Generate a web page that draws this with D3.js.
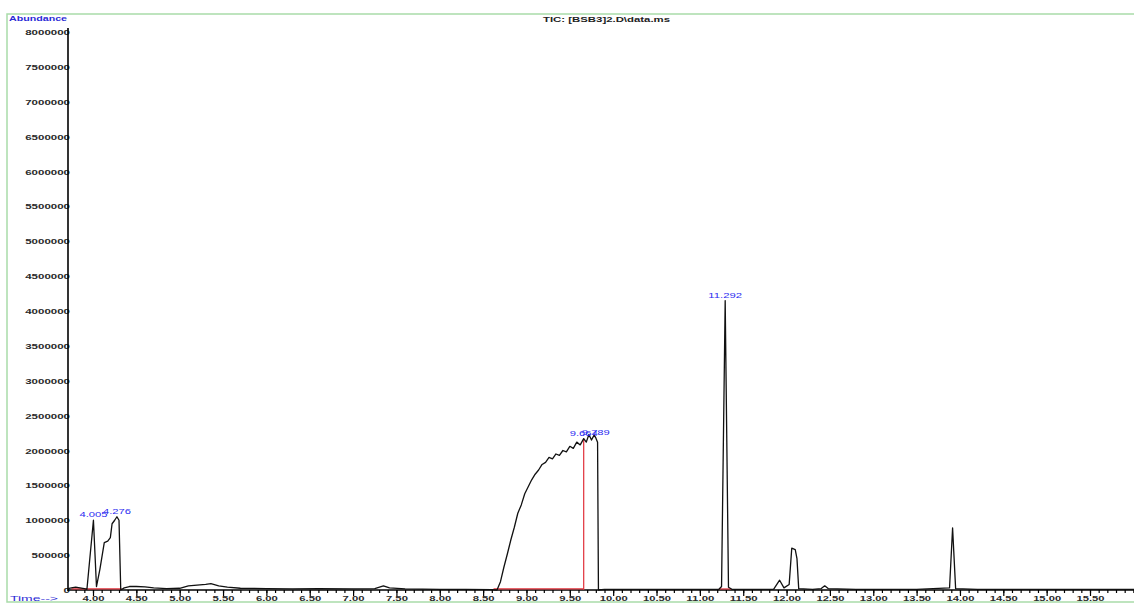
<!DOCTYPE html>
<html>
<head>
<meta charset="utf-8">
<script src="https://cdn.jsdelivr.net/npm/d3@7"></script>
<style>
body { margin: 0; background: white; }
text { font-family: "Liberation Sans", Arial, sans-serif; }
</style>
</head>
<body>
<svg id="chart" width="1134" height="603"></svg>
<script>
// TIC trace (minutes, abundance)
var times = [3.71, 3.75, 3.80, 3.85, 3.90, 3.93, 4.005, 4.04, 4.08, 4.13, 4.17, 4.20, 4.22, 4.25, 4.276, 4.30, 4.32,
    4.36, 4.42, 4.50, 4.60, 4.70, 4.85, 5.00, 5.10, 5.20, 5.30, 5.36, 5.45, 5.55, 5.70, 6.00, 6.30, 6.60, 7.00,
    7.25, 7.35, 7.42, 7.60, 8.00, 8.30, 8.60, 8.66, 8.70, 8.74, 8.78, 8.82, 8.86, 8.90, 8.94, 8.98, 9.02, 9.06,
    9.10, 9.14, 9.18, 9.22, 9.26, 9.30, 9.34, 9.38, 9.42, 9.46, 9.50, 9.54, 9.58, 9.62, 9.66, 9.69, 9.72, 9.75,
    9.78, 9.80, 9.82, 9.83, 9.90, 10.20, 10.60, 11.00, 11.22, 11.25, 11.292, 11.33, 11.37, 11.85, 11.92, 11.97,
    12.03, 12.06, 12.10, 12.12, 12.14, 12.30, 12.40, 12.44, 12.48, 12.80, 13.50, 13.88, 13.915, 13.95, 14.20,
    15.00, 16.10]
var abundance = [20000, 30000, 40000, 30000, 20000, 10000, 1000000, 50000, 300000, 680000, 700000, 750000, 950000, 1000000, 1050000, 1000000, 0,
    30000, 50000, 50000, 45000, 30000, 20000, 25000, 60000, 70000, 80000, 90000, 60000, 40000, 25000, 20000, 15000, 20000, 15000,
    20000, 60000, 30000, 15000, 10000, 10000, 5000, 0, 120000, 330000, 520000, 720000, 900000, 1100000, 1220000, 1380000, 1480000, 1580000,
    1660000, 1720000, 1800000, 1830000, 1900000, 1880000, 1950000, 1930000, 2000000, 1980000, 2060000, 2030000, 2120000, 2080000, 2170000, 2120000, 2230000, 2150000,
    2220000, 2180000, 2120000, 0, 10000, 10000, 10000, 10000, 10000, 50000, 4150000, 40000, 10000, 10000, 140000, 30000,
    80000, 600000, 580000, 450000, 20000, 10000, 20000, 60000, 20000, 10000, 10000, 30000, 890000, 20000, 10000,
    10000, 10000]

// integration marks
var peakTimes = [4.005, 4.276, 9.66, 9.80, 11.292]
var peakAbund = [1000000, 1050000, 2170000, 2180000, 4150000]
var peakLabels = ["4.005", "4.276", "9.664", "9.789", "11.292"]
var baseStart = [3.75, 8.62, 11.22]
var baseEnd = [4.33, 9.66, 11.36]
var splitTime = 9.66
var splitAbund = 2170000

var yTicks = d3.range(0, 8000001, 500000)
var xMajor = d3.range(4, 15.51, 0.5)
var xMinor = d3.range(3.8, 16.05, 0.1)

var svg = d3.select("#chart")
var x = d3.scaleLinear().domain([4, 15.5]).range([93, 1090])
var y = d3.scaleLinear().domain([0, 8000000]).range([590, 32])

// green frame
svg.append("rect")
    .attr("x", 7).attr("y", 14).attr("width", 1140).attr("height", 588)
    .attr("fill", "none").attr("stroke", "#a9dba9").attr("stroke-width", 1.5)

svg.append("text").attr("x", 9).attr("y", 21)
    .attr("font-size", "8px").attr("font-weight", "bold").attr("fill", "#2b2bd6")
    .attr("textLength", 58).attr("lengthAdjust", "spacingAndGlyphs")
    .text("Abundance")

svg.append("text").attr("x", 543).attr("y", 22)
    .attr("font-size", "8px").attr("font-weight", "bold").attr("fill", "#222")
    .attr("textLength", 127).attr("lengthAdjust", "spacingAndGlyphs")
    .text("TIC: [BSB3]2.D\\data.ms")

svg.append("text").attr("x", 10).attr("y", 601)
    .attr("font-size", "8px").attr("fill", "#2b2bd6")
    .attr("textLength", 48).attr("lengthAdjust", "spacingAndGlyphs")
    .text("Time-->")

// y axis
var yAxis = svg.append("g").attr("transform", "translate(68,0)")
    .call(d3.axisLeft(y).tickValues(yTicks).tickSize(0).tickPadding(-2).tickFormat(d3.format("d")))
yAxis.select(".domain").remove()
yAxis.selectAll("text")
    .attr("font-size", "8px").attr("font-weight", "bold").attr("fill", "#2a2a2a")
    .attr("font-family", "Liberation Sans, Arial, sans-serif")
    .attr("textLength", function(d){return String(d).length * 6.4})
    .attr("lengthAdjust", "spacingAndGlyphs")
svg.append("line").attr("x1", 68).attr("x2", 68).attr("y1", 28).attr("y2", 591)
    .attr("stroke", "black").attr("stroke-width", 1.6)

// x axis
var xMinorAxis = svg.append("g").attr("transform", "translate(0,590)")
    .call(d3.axisBottom(x).tickValues(xMinor).tickSize(3).tickFormat(""))
xMinorAxis.select(".domain").remove()
xMinorAxis.selectAll("line").attr("stroke-width", 1.2)

var xAxis = svg.append("g").attr("transform", "translate(0,590)")
    .call(d3.axisBottom(x).tickValues(xMajor).tickSize(6).tickPadding(3).tickFormat(d3.format(".2f")))
xAxis.select(".domain").remove()
xAxis.selectAll("line").attr("stroke-width", 1.2)
xAxis.selectAll("text")
    .attr("font-size", "8px").attr("font-weight", "bold").attr("fill", "#2a2a2a")
    .attr("font-family", "Liberation Sans, Arial, sans-serif")
    .attr("y", 5)
    .attr("textLength", function(d){return d >= 10 ? 28 : 22})
    .attr("lengthAdjust", "spacingAndGlyphs")

svg.append("line").attr("x1", 68).attr("x2", 1134).attr("y1", 590).attr("y2", 590)
    .attr("stroke", "black").attr("stroke-width", 1.6)

// red integration baselines
svg.selectAll(".base").data(baseStart).enter().append("line")
    .attr("class", "base")
    .attr("x1", function(d){return x(d)})
    .attr("x2", function(d,i){return x(baseEnd[i])})
    .attr("y1", y(15000)).attr("y2", y(15000))
    .attr("stroke", "#e0303a").attr("stroke-width", 1.2)

svg.append("line")
    .attr("x1", x(splitTime)).attr("x2", x(splitTime))
    .attr("y1", y(0)).attr("y2", y(splitAbund))
    .attr("stroke", "#e0303a").attr("stroke-width", 1.2)

// trace
var pts = times.map(function(t,i){return [t, abundance[i]]})
var line = d3.line().x(function(d){return x(d[0])}).y(function(d){return y(d[1])})
svg.append("path").datum(pts)
    .attr("d", line)
    .attr("fill", "none").attr("stroke", "#111").attr("stroke-width", 1.3)
    .attr("stroke-linejoin", "round")

// peak labels
svg.selectAll(".plab").data(peakTimes).enter().append("text")
    .attr("class", "plab")
    .attr("x", function(d){return x(d)})
    .attr("y", function(d,i){return y(peakAbund[i]) - 3})
    .attr("text-anchor", "middle")
    .attr("font-size", "8px").attr("fill", "#2b2bf0")
    .attr("textLength", function(d,i){return peakLabels[i].length * 5.6})
    .attr("lengthAdjust", "spacingAndGlyphs")
    .text(function(d,i){return peakLabels[i]})
</script>
</body>
</html>
